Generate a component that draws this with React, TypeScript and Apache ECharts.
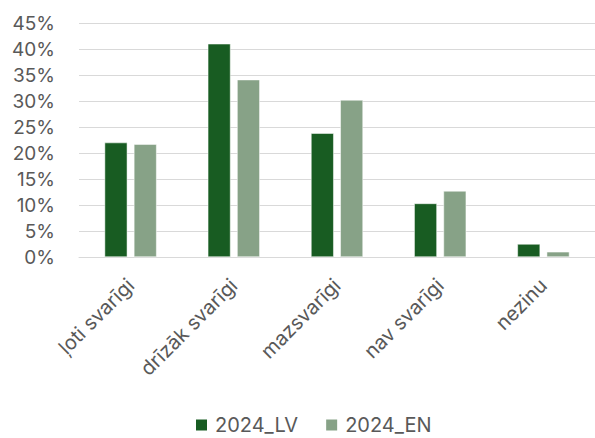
import React, { useEffect, useRef } from "react";
import * as echarts from "echarts";

const categories = ["ļoti svarīgi", "drīzāk svarīgi", "mazsvarīgi", "nav svarīgi", "nezinu"];
const seriesLV = [22.0, 41.0, 23.8, 10.3, 2.5];
const seriesEN = [21.7, 34.1, 30.2, 12.7, 1.0];
const seriesNames = ["2024_LV", "2024_EN"];

export default function App() {
  const ref = useRef<HTMLDivElement>(null);
  useEffect(() => {
    if (!ref.current) return;
    const chart = echarts.init(ref.current, null, { renderer: "svg" });
    const font = "Inter, Roboto, sans-serif";
    chart.setOption({
      animation: false,
      textStyle: { fontFamily: font },
      grid: { left: 79, right: 0, top: 23, bottom: 181, containLabel: false },
      legend: {
        top: 415,
        left: 194,
        padding: 0,
        itemWidth: 13,
        itemHeight: 13,
        itemGap: 26,
        icon: "rect",
        textStyle: { color: "#595959", fontSize: 20, fontFamily: font, lineHeight: 18, padding: [0, 0, 0, 2] },
        data: seriesNames,
      },
      xAxis: {
        type: "category",
        data: categories,
        axisLine: { show: true, lineStyle: { color: "#d9d9d9", width: 1 } },
        axisTick: { show: false },
        axisLabel: {
          rotate: 45,
          color: "#595959",
          fontSize: 20,
          fontFamily: font,
          interval: 0,
          margin: 25,
        },
      },
      yAxis: {
        type: "value",
        min: 0,
        max: 45,
        interval: 5,
        axisLine: { show: false },
        axisTick: { show: false },
        splitLine: { lineStyle: { color: "#d9d9d9", width: 1 } },
        axisLabel: {
          formatter: "{value}%",
          color: "#595959",
          fontSize: 19,
          fontFamily: font,
          margin: 24,
        },
      },
      series: [
        {
          name: seriesNames[0],
          type: "bar",
          data: seriesLV,
          barWidth: "22%",
          barGap: "29%",
          itemStyle: { color: "#185C22", borderColor: "#ffffff", borderWidth: 0.5 },
        },
        {
          name: seriesNames[1],
          type: "bar",
          data: seriesEN,
          barWidth: "22%",
          itemStyle: { color: "#87A287", borderColor: "#ffffff", borderWidth: 0.5 },
        },
      ],
    });
    return () => chart.dispose();
  }, []);
  return <div ref={ref} style={{ width: 595, height: 438, position: "absolute", left: 0, top: 0 }} />;
}
